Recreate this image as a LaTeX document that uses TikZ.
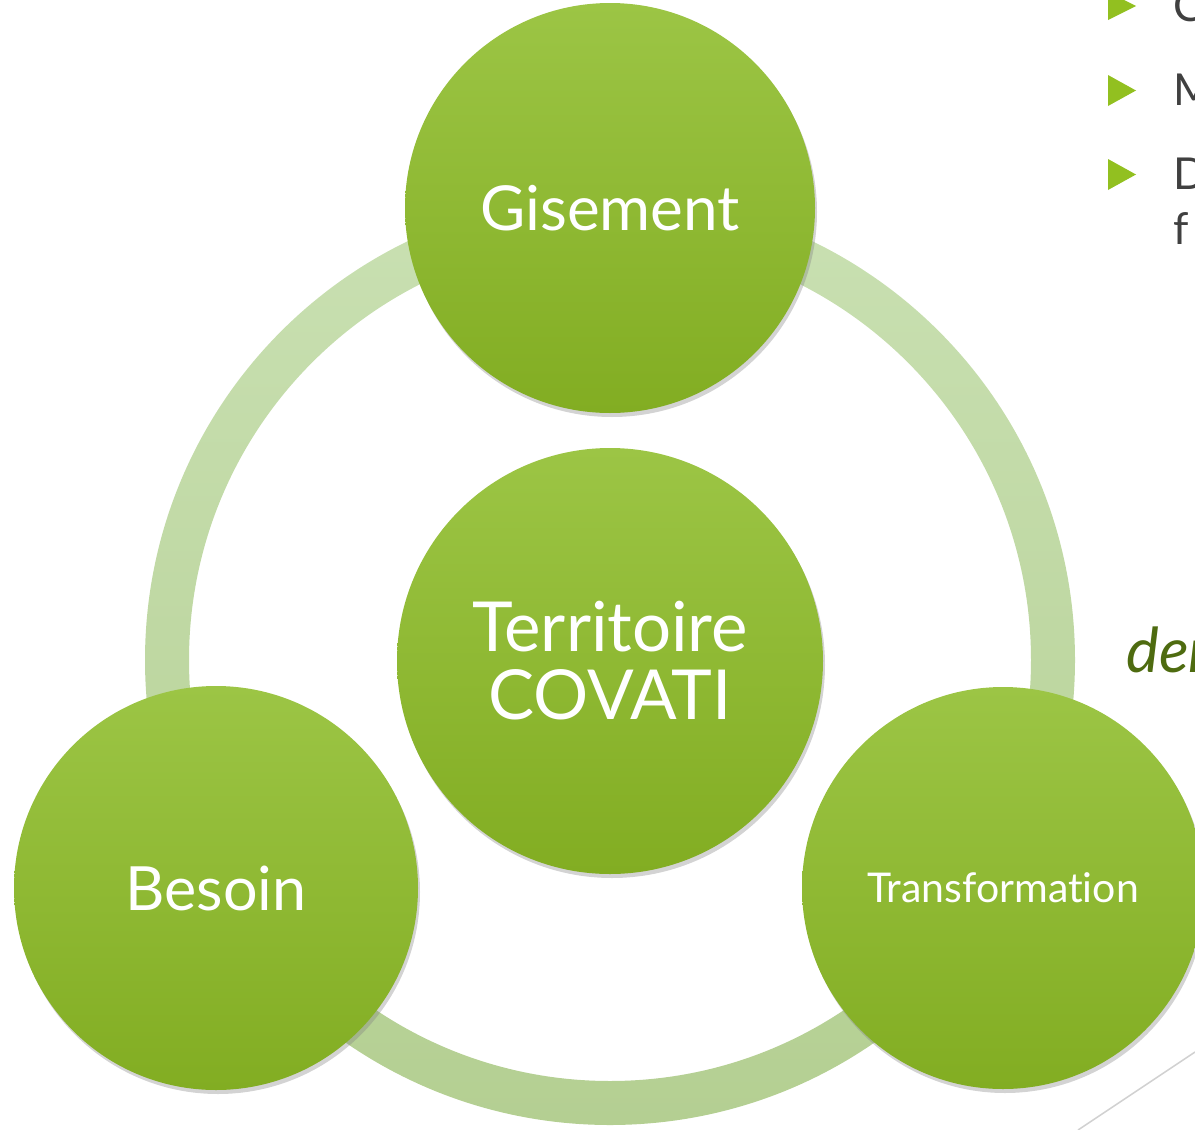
\documentclass[tikz,border=0pt]{standalone}
\usepackage{fontspec}
\setmainfont{Lato}[Ligatures=NoCommon]
\usetikzlibrary{shadows}
\definecolor{gtop}{HTML}{9CC545}
\definecolor{gbot}{HTML}{82AD22}
\definecolor{ringtop}{HTML}{C9E0B2}
\definecolor{ringbot}{HTML}{B4CF92}
\definecolor{bullet}{HTML}{92C020}
\definecolor{bullettxt}{HTML}{404040}
\definecolor{cursive}{HTML}{4E6B10}
\tikzset{
  bubble/.style={circle, inner sep=0pt, top color=gtop, bottom color=gbot, draw=none,
    drop shadow={opacity=0.35, shadow xshift=2pt, shadow yshift=-4pt}, text=white, align=center},
  bulletmark/.style={fill=bullet, draw=none},
  bullettext/.style={text=bullettxt, anchor=west, inner sep=0pt, font=\fontsize{44}{50}\selectfont},
}
\begin{document}
\begin{tikzpicture}[x=1pt,y=-1pt]
\useasboundingbox (0,0) rectangle (1195,1130);
% ring
\path[top color=ringtop, bottom color=ringbot, even odd rule]
  (610,660) circle (465) (610,660) circle (421);
% circles
\node[bubble, minimum size=410pt, font=\fontsize{62}{70}\selectfont] (gis) at (610,208) {Gisement};
\node[bubble, minimum size=426pt, font=\fontsize{69}{68}\selectfont] (terr) at (610,661) {Territoire\\COVATI};
\node[bubble, minimum size=404pt, font=\fontsize{61}{70}\selectfont] (bes) at (216,888) {Besoin};
\node[bubble, minimum size=402pt, font=\fontsize{41}{44}\selectfont] (tra) at (1003,888) {Transformation};
% bullets (cropped at right edge)
\fill[bulletmark] (1108,-8) -- (1136,6) -- (1108,20) -- cycle;
\fill[bulletmark] (1108,75) -- (1136,90.5) -- (1108,106) -- cycle;
\fill[bulletmark] (1108,159) -- (1136,174.5) -- (1108,190) -- cycle;
\node[bullettext] (b1) at (1173,6) {C};
\node[bullettext] (b2) at (1173,90) {M};
\node[bullettext] (b3) at (1173,174) {D};
\node[bullettext] (b4) at (1173,229) {f};
% cursive text
\node[text=cursive, anchor=base west, inner sep=0pt, font=\fontsize{62}{66}\itshape] (cur) at (1126,672) {dem};
% grey line
\coordinate (l1) at (1078,1130);
\coordinate (l2) at (1195,1052);
\draw[black!18, line width=1.5pt] (l1) -- (l2);
\end{tikzpicture}
\end{document}
